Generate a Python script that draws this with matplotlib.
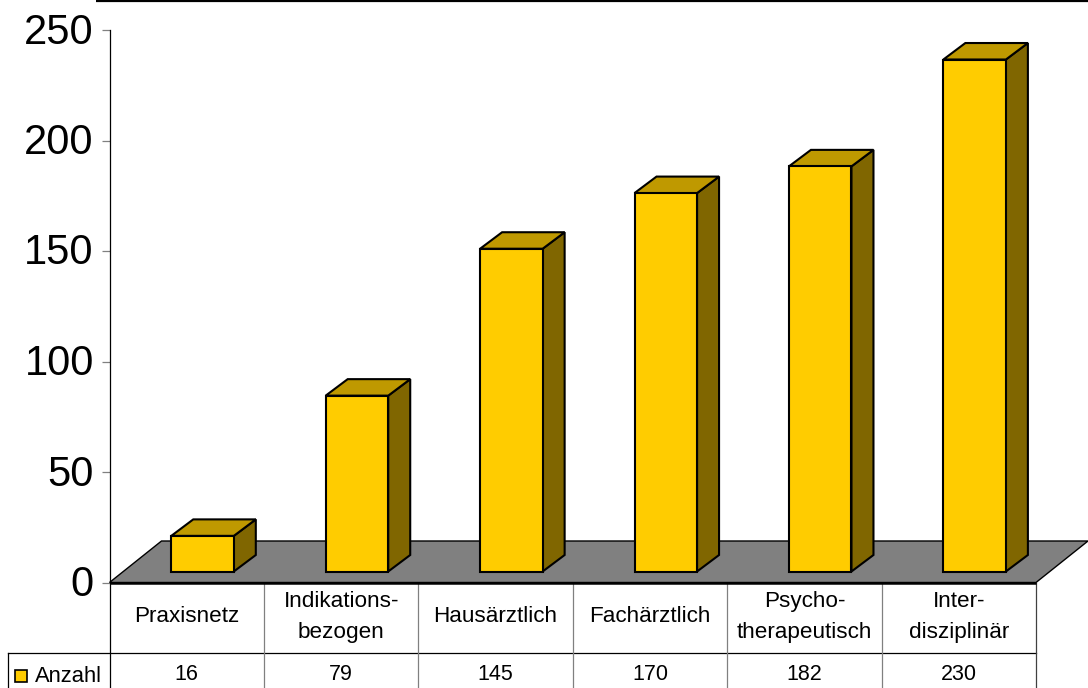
import numpy as np
import matplotlib
matplotlib.use("Agg")
import matplotlib.pyplot as plt
from matplotlib.patches import Polygon, Rectangle
from matplotlib.transforms import ScaledTranslation

plt.rcParams["font.family"] = "Liberation Sans"

categories = ["Praxisnetz", "Indikations-\nbezogen", "Hausärztlich", "Fachärztlich",
              "Psycho-\ntherapeutisch", "Inter-\ndisziplinär"]
values = [16, 79, 145, 170, 182, 230]
series_name = "Anzahl"
yticks = [0, 50, 100, 150, 200, 250]

W, H = 1088, 688
fig = plt.figure(figsize=(W / 100, H / 100), dpi=100)

# background layer in pixel coordinates for the table frame and the top rule
bg = fig.add_axes([0, 0, 1, 1])
bg.set_xlim(0, W)
bg.set_ylim(H, 0)
bg.axis("off")

x0, x1, y0, y_top = 109.5, 1036, 582.5, 30
ax = fig.add_axes([x0 / W, 1 - y0 / H, (x1 - x0) / W, (y0 - y_top) / H])
ax.patch.set_visible(False)
ax.set_xlim(0, len(values))
ax.set_ylim(0, 250)

px_x = (x1 - x0) / len(values)
px_y = (y0 - y_top) / 250
depth_x = 22 / px_x
depth_y = 16.5 / px_y

# floor
floor_dx, floor_dy = 52 / px_x, 41.5 / px_y
ax.add_patch(Polygon([(0, 0), (len(values), 0), (len(values) + floor_dx, floor_dy), (floor_dx, floor_dy)],
                     closed=True, facecolor="#808080", edgecolor="black", linewidth=1.0,
                     clip_on=False, zorder=1))
ax.plot([0, len(values)], [0, 0], color="black", lw=1.8, clip_on=False, zorder=1.5, solid_capstyle="butt")

# bars with their side and top faces
base = 11 / px_y
scale = 2.226 / px_y
for i, v in enumerate(values):
    left = i + 0.4
    w = 0.405
    h = v * scale
    ax.bar(left, h, width=w, bottom=base, align="edge", color="#FFCC00", edgecolor="black",
           linewidth=1.5, clip_on=False, zorder=3)
    top = base + h
    ax.add_patch(Polygon([(left + w, base), (left + w + depth_x, base + depth_y),
                          (left + w + depth_x, top + depth_y), (left + w, top)],
                         closed=True, facecolor="#806600", edgecolor="black", linewidth=1.5,
                         clip_on=False, zorder=2.9))
    ax.add_patch(Polygon([(left, top), (left + depth_x, top + depth_y),
                          (left + w + depth_x, top + depth_y), (left + w, top)],
                         closed=True, facecolor="#BF9900", edgecolor="black", linewidth=1.5,
                         clip_on=False, zorder=2.9))

for s in ["top", "right", "bottom"]:
    ax.spines[s].set_visible(False)
ax.spines["left"].set_linewidth(0.9)
ax.set_xticks([])
ax.set_yticks(yticks)
ax.tick_params(axis="y", length=5.8, width=0.9, color="#808080", labelsize=30, pad=5.5)
# tick labels sit a little higher in the original
shift = ScaledTranslation(0, 2 / 100, fig.dpi_scale_trans)
for lab in ax.get_yticklabels():
    lab.set_transform(lab.get_transform() + shift)

# top rule
bg.plot([96, W], [0.8, 0.8], color="black", lw=1.6, solid_capstyle="butt")

# table below the chart
row_y = 652.5
bg.plot([8, x1], [row_y, row_y], color="black", lw=0.9)
bg.plot([8, 8], [row_y, H], color="black", lw=0.9)
bg.plot([x0, x0], [y0, H], color="black", lw=0.9)
bg.plot([x1, x1], [y0, H], color="#404040", lw=0.9)
for i in range(1, len(values)):
    xp = x0 + i * px_x
    bg.plot([xp, xp], [y0, H], color="#808080", lw=0.9)
for i, (c, v) in enumerate(zip(categories, values)):
    xc = x0 + (i + 0.5) * px_x
    bg.text(xc, 617, c, ha="center", va="center", fontsize=16.2, linespacing=1.6)
    bg.text(xc, 674.5, str(v), ha="center", va="center", fontsize=15.5)

bg.add_patch(Rectangle((15, 670), 12, 12, facecolor="#FFCC00", edgecolor="black", linewidth=1.2))
bg.text(35, 677, series_name, ha="left", va="center", fontsize=15.8)

fig.savefig("out.png", dpi=100)
